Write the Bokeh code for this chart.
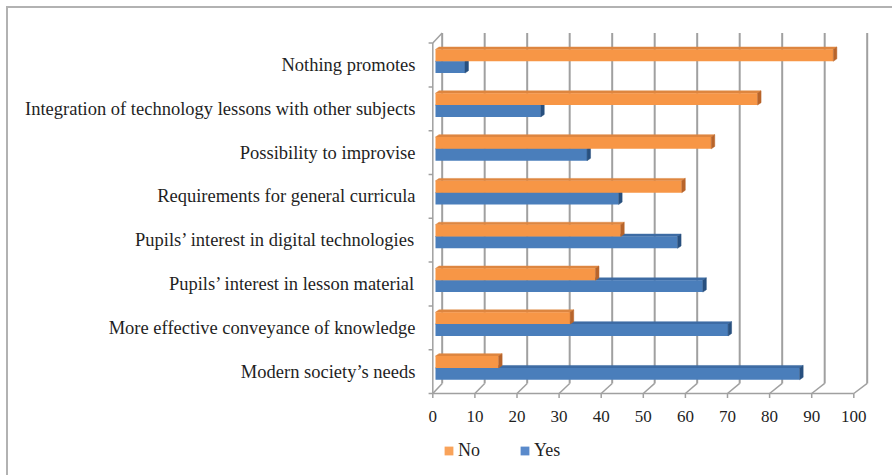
from bokeh.plotting import figure
from bokeh.models import Range1d, FixedTicker, Legend, LegendItem
from bokeh.layouts import column
from bokeh.embed import file_html
from bokeh.resources import INLINE

# ---------------- data (top to bottom as shown) ----------------
categories = [
    "Nothing promotes",
    "Integration of technology lessons with other subjects",
    "Possibility to improvise",
    "Requirements for general curricula",
    "Pupils’ interest in digital technologies",
    "Pupils’ interest in lesson material",
    "More effective conveyance of knowledge",
    "Modern society’s needs",
]
no_values = [94.5, 76.5, 65.5, 58.5, 44.0, 38.0, 32.0, 15.0]
yes_values = [7.0, 25.0, 36.0, 43.5, 57.5, 63.5, 69.5, 86.5]
series_names = ["No", "Yes"]
x_ticks = [0, 10, 20, 30, 40, 50, 60, 70, 80, 90, 100]

# ---------------- styling / geometry constants ----------------
FONT = "Liberation Serif"
TEXT_COLOR = "#1f1f1f"
GRID_COLOR = "#a0a0a0"
BORDER = "#b2b2b2"
NO_FRONT, NO_TOP, NO_SIDE, NO_LEG = "#F79646", "#DE8640", "#B8642A", "#F9A35A"
YES_FRONT, YES_TOP, YES_SIDE, YES_LEG = "#4A7EBB", "#3E6CA4", "#28507F", "#5A8ACB"

DEPTH_X0, DEPTH_XS, DEPTH_Y = 2.23, 1.0095, 0.23   # back-wall offset (3D look)
BAR_X0 = 0.64                                      # bars sit slightly behind front plane
BAR_H = 0.27
YES_OFF, NO_OFF = 0.45, 0.72
FACE_DX, FACE_DY = 0.83, 0.055
LEFT_BORDER = 426

n = len(categories)
base = [n - 1 - k for k in range(n)]          # band bottom (synthetic units)
centers = [b + 0.5 for b in base]

p = figure(width=892, height=430, output_backend="svg", toolbar_location=None,
           x_range=Range1d(-1.496, 106.34), y_range=Range1d(-0.114, 8.333),
           min_border_left=LEFT_BORDER, min_border_right=12, min_border_top=28,
           min_border_bottom=32)
p.xgrid.visible = False
p.ygrid.visible = False
p.outline_line_color = None
p.background_fill_color = "white"
p.border_fill_color = None
# outer chart border: only its top and left edges fall inside the picture
p.styles = {
    "background-color": "white",
    "background-image": f"linear-gradient({BORDER}, {BORDER}), linear-gradient({BORDER}, {BORDER})",
    "background-position": "6px 6px, 6px 6px",
    "background-size": "2px 100%, 100% 2px",
    "background-repeat": "no-repeat",
}

# ---------------- 3D frame: back-wall grid, floor, left wall ----------------
back_x = [DEPTH_X0 + DEPTH_XS * t for t in x_ticks]
p.segment(x0=back_x, y0=[DEPTH_Y] * len(x_ticks), x1=back_x, y1=[n + DEPTH_Y] * len(x_ticks),
          line_color=GRID_COLOR, line_width=2)
p.segment(x0=x_ticks, y0=[0] * len(x_ticks), x1=back_x, y1=[DEPTH_Y] * len(x_ticks),
          line_color=GRID_COLOR, line_width=1.5)
p.segment(x0=[x_ticks[0]], y0=[0], x1=[x_ticks[-1]], y1=[0], line_color=GRID_COLOR, line_width=1.5)
# tick marks below the front floor edge
p.segment(x0=x_ticks, y0=[0] * len(x_ticks), x1=x_ticks, y1=[-0.1] * len(x_ticks),
          line_color=GRID_COLOR, line_width=1.5)
# left wall
p.segment(x0=[0], y0=[0], x1=[0], y1=[n], line_color=GRID_COLOR, line_width=1.5)
p.segment(x0=[0], y0=[n], x1=[DEPTH_X0], y1=[n + DEPTH_Y], line_color=GRID_COLOR, line_width=1.5)
bounds = list(range(n + 1))
p.segment(x0=[-1.0] * len(bounds), y0=bounds, x1=[0] * len(bounds), y1=bounds,
          line_color=GRID_COLOR, line_width=1.5)


def draw_series(values, off, front, top, side):
    ys = [c - 0.5 + off for c in centers]
    lefts = [BAR_X0] * n
    rights = [BAR_X0 + v for v in values]
    bots = [y - BAR_H / 2 for y in ys]
    tops = [y + BAR_H / 2 for y in ys]
    top_xs = [[l, l + FACE_DX, r + FACE_DX, r] for l, r in zip(lefts, rights)]
    top_ys = [[t, t + FACE_DY, t + FACE_DY, t] for t in tops]
    p.patches(xs=top_xs, ys=top_ys, fill_color=top, line_color=top, line_width=0.5)
    r = p.hbar(y=ys, left=lefts, right=rights, height=BAR_H, fill_color=front, line_color=None)
    side_xs = [[r_, r_, r_ + FACE_DX, r_ + FACE_DX] for r_ in rights]
    side_ys = [[b, t, t + FACE_DY, b + FACE_DY] for b, t in zip(bots, tops)]
    p.patches(xs=side_xs, ys=side_ys, fill_color=side, line_color=side, line_width=0.5)
    return r


draw_series(yes_values, YES_OFF, YES_FRONT, YES_TOP, YES_SIDE)
draw_series(no_values, NO_OFF, NO_FRONT, NO_TOP, NO_SIDE)

# ---------------- axes ----------------
xa = p.xaxis[0]
xa.ticker = FixedTicker(ticks=x_ticks, minor_ticks=[])
xa.axis_line_color = None
xa.major_tick_line_color = None
xa.major_tick_out = 0
xa.major_tick_in = 0
xa.minor_tick_line_color = None
xa.major_label_standoff = 12
xa.major_label_text_font = FONT
xa.major_label_text_font_size = "17px"
xa.major_label_text_color = TEXT_COLOR

ya = p.yaxis[0]
ya.ticker = FixedTicker(ticks=centers, minor_ticks=[])
ya.major_label_overrides = {c: lab for c, lab in zip(centers, categories)}
ya.axis_line_color = None
ya.major_tick_line_color = None
ya.major_tick_out = 0
ya.major_tick_in = 0
ya.minor_tick_line_color = None
ya.major_label_standoff = 11
ya.major_label_text_font = FONT
ya.major_label_text_font_size = "18.5px"
ya.major_label_text_color = TEXT_COLOR

# ---------------- legend strip below the chart ----------------
pl = figure(width=892, height=45, output_backend="svg", toolbar_location=None,
            x_axis_type=None, y_axis_type=None, x_range=Range1d(0, 1), y_range=Range1d(0, 1),
            min_border_left=LEFT_BORDER, min_border_right=0, min_border_top=0, min_border_bottom=0)
pl.xgrid.visible = False
pl.ygrid.visible = False
pl.outline_line_color = None
pl.background_fill_color = None
pl.border_fill_color = None
pl.styles = {
    "background-color": "white",
    "background-image": f"linear-gradient({BORDER}, {BORDER})",
    "background-position": "6px 0px",
    "background-size": "2px 100%",
    "background-repeat": "no-repeat",
}
# legend proxy renderers: one item each, parked outside the strip's visible range
proxy_y = [-5]
leg_no = pl.hbar(y=proxy_y, left=[0], right=[1], height=1, fill_color=NO_LEG, line_color=None)
leg_yes = pl.hbar(y=proxy_y, left=[0], right=[1], height=1, fill_color=YES_LEG, line_color=None)
legend = Legend(items=[LegendItem(label=series_names[0], renderers=[leg_no]),
                       LegendItem(label=series_names[1], renderers=[leg_yes])],
                location=(17, 14), orientation="horizontal",
                glyph_width=11, glyph_height=11, label_standoff=4, spacing=39,
                padding=0, margin=0, border_line_color=None, background_fill_alpha=0,
                label_text_font=FONT, label_text_font_size="18px",
                label_text_color=TEXT_COLOR, label_height=15)
pl.add_layout(legend, "center")

layout = column(p, pl, spacing=0)
open("out.html", "w").write(file_html(layout, INLINE))
